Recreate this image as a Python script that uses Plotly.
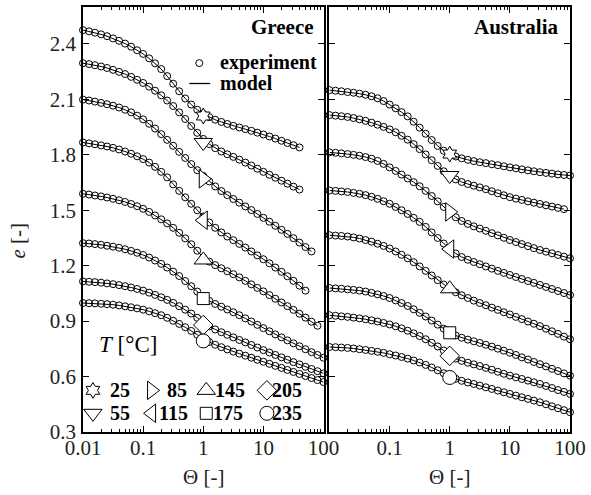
import plotly.graph_objects as go

# ---------------- data ----------------
theta = [0.01, 0.0126, 0.0158, 0.02, 0.0251, 0.0316, 0.0398, 0.0501, 0.0631, 0.0794,
         0.1, 0.126, 0.158, 0.2, 0.251, 0.316, 0.398, 0.501, 0.631, 0.794,
         1.0, 1.26, 1.58, 2.0, 2.51, 3.16, 3.98, 5.01, 6.31, 7.94,
         10.0, 12.6, 15.8, 20.0, 25.1, 31.6, 39.8, 50.1, 63.1, 79.4, 100.0]

temps = [25, 55, 85, 115, 145, 175, 205, 235]

# Greece
g25 = [2.475, 2.468, 2.461, 2.452, 2.442, 2.430, 2.417, 2.402, 2.385, 2.366,
       2.346, 2.322, 2.295, 2.264, 2.226, 2.185, 2.144, 2.105, 2.072, 2.044,
       2.022, 2.004, 1.990, 1.978, 1.967, 1.957, 1.948, 1.939, 1.930, 1.920,
       1.910, 1.899, 1.888, 1.876, 1.864, 1.852, 1.840]
g55 = [2.296, 2.291, 2.285, 2.278, 2.270, 2.260, 2.249, 2.237, 2.222, 2.206,
       2.189, 2.169, 2.147, 2.122, 2.094, 2.064, 2.030, 1.994, 1.956, 1.919,
       1.886, 1.858, 1.836, 1.818, 1.803, 1.789, 1.774, 1.758, 1.742, 1.725,
       1.708, 1.692, 1.676, 1.660, 1.644, 1.628, 1.612]
g85 = [2.099, 2.094, 2.088, 2.081, 2.074, 2.066, 2.056, 2.044, 2.030, 2.012,
       1.992, 1.968, 1.942, 1.912, 1.881, 1.849, 1.816, 1.783, 1.750, 1.717,
       1.686, 1.656, 1.629, 1.604, 1.582, 1.561, 1.541, 1.521, 1.501, 1.480,
       1.459, 1.438, 1.416, 1.394, 1.372, 1.349, 1.325, 1.301, 1.277]
g115 = [1.867, 1.862, 1.857, 1.851, 1.845, 1.838, 1.829, 1.818, 1.806, 1.792,
        1.777, 1.758, 1.735, 1.708, 1.678, 1.640, 1.605, 1.570, 1.535, 1.500,
        1.466, 1.434, 1.405, 1.380, 1.358, 1.338, 1.318, 1.298, 1.277, 1.256,
        1.235, 1.213, 1.190, 1.167, 1.143, 1.118, 1.092, 1.065]
g145 = [1.589, 1.585, 1.580, 1.575, 1.569, 1.562, 1.554, 1.545, 1.534, 1.522,
        1.508, 1.491, 1.472, 1.451, 1.429, 1.405, 1.378, 1.348, 1.316, 1.281,
        1.245, 1.222, 1.203, 1.186, 1.170, 1.154, 1.137, 1.118, 1.099, 1.080,
        1.061, 1.041, 1.021, 1.001, 0.981, 0.961, 0.940, 0.919, 0.897, 0.875]
g175 = [1.322, 1.320, 1.317, 1.313, 1.308, 1.303, 1.297, 1.289, 1.280, 1.270,
        1.258, 1.244, 1.228, 1.210, 1.190, 1.168, 1.144, 1.117, 1.089, 1.060,
        1.032, 1.010, 0.993, 0.978, 0.963, 0.948, 0.932, 0.915, 0.898, 0.880,
        0.862, 0.845, 0.828, 0.812, 0.796, 0.780, 0.764, 0.748, 0.732, 0.717, 0.702]
g205 = [1.115, 1.113, 1.111, 1.108, 1.104, 1.100, 1.095, 1.089, 1.082, 1.074,
        1.065, 1.054, 1.042, 1.029, 1.015, 0.999, 0.981, 0.962, 0.941, 0.918,
        0.893, 0.872, 0.855, 0.840, 0.826, 0.812, 0.798, 0.785, 0.771, 0.757,
        0.743, 0.730, 0.717, 0.704, 0.691, 0.678, 0.666, 0.653, 0.641, 0.629, 0.617]
g235 = [0.998, 0.997, 0.996, 0.994, 0.992, 0.989, 0.985, 0.980, 0.975, 0.969,
        0.962, 0.953, 0.943, 0.932, 0.918, 0.902, 0.885, 0.867, 0.847, 0.826,
        0.805, 0.787, 0.772, 0.759, 0.747, 0.735, 0.724, 0.713, 0.702, 0.691,
        0.680, 0.669, 0.658, 0.647, 0.636, 0.625, 0.614, 0.603, 0.592, 0.581, 0.570]

# Australia
a25 = [2.150, 2.147, 2.144, 2.140, 2.136, 2.131, 2.125, 2.117, 2.106, 2.091,
       2.072, 2.052, 2.031, 2.008, 1.979, 1.947, 1.914, 1.880, 1.848, 1.822,
       1.804, 1.791, 1.781, 1.773, 1.766, 1.760, 1.755, 1.749, 1.744, 1.738,
       1.732, 1.727, 1.721, 1.716, 1.711, 1.706, 1.702, 1.698, 1.694, 1.691, 1.688]
a55 = [2.015, 2.012, 2.009, 2.005, 1.999, 1.992, 1.984, 1.974, 1.963, 1.951,
       1.938, 1.922, 1.903, 1.882, 1.858, 1.831, 1.802, 1.771, 1.740, 1.711,
       1.686, 1.667, 1.653, 1.642, 1.633, 1.624, 1.614, 1.603, 1.592, 1.581,
       1.571, 1.563, 1.556, 1.548, 1.541, 1.534, 1.527, 1.520, 1.513, 1.506]
a85 = [1.813, 1.811, 1.808, 1.804, 1.800, 1.795, 1.788, 1.779, 1.767, 1.751,
       1.732, 1.713, 1.693, 1.672, 1.652, 1.630, 1.605, 1.577, 1.548, 1.518,
       1.489, 1.462, 1.442, 1.426, 1.413, 1.401, 1.389, 1.376, 1.364, 1.351,
       1.339, 1.328, 1.317, 1.306, 1.295, 1.285, 1.276, 1.267, 1.258, 1.249, 1.240]
a115 = [1.607, 1.605, 1.602, 1.599, 1.594, 1.589, 1.582, 1.573, 1.562, 1.549,
        1.535, 1.518, 1.500, 1.480, 1.459, 1.437, 1.410, 1.380, 1.350, 1.320,
        1.291, 1.266, 1.247, 1.232, 1.220, 1.208, 1.196, 1.184, 1.172, 1.161,
        1.150, 1.139, 1.128, 1.117, 1.107, 1.096, 1.085, 1.074, 1.063, 1.052, 1.041]
a145 = [1.365, 1.363, 1.361, 1.358, 1.353, 1.347, 1.339, 1.330, 1.319, 1.307,
        1.293, 1.277, 1.259, 1.240, 1.219, 1.196, 1.172, 1.147, 1.122, 1.098,
        1.076, 1.056, 1.040, 1.025, 1.011, 0.998, 0.986, 0.973, 0.961, 0.948,
        0.936, 0.923, 0.911, 0.898, 0.886, 0.873, 0.859, 0.845, 0.831, 0.816, 0.802]
a175 = [1.079, 1.077, 1.075, 1.072, 1.069, 1.065, 1.060, 1.053, 1.045, 1.036,
        1.025, 1.012, 0.998, 0.982, 0.964, 0.945, 0.925, 0.903, 0.881, 0.859,
        0.838, 0.822, 0.810, 0.800, 0.791, 0.782, 0.772, 0.762, 0.751, 0.740,
        0.729, 0.717, 0.704, 0.692, 0.679, 0.667, 0.655, 0.642, 0.630, 0.617, 0.605]
a205 = [0.932, 0.929, 0.926, 0.923, 0.919, 0.915, 0.910, 0.904, 0.898, 0.890,
        0.882, 0.872, 0.861, 0.848, 0.834, 0.819, 0.802, 0.783, 0.763, 0.741,
        0.716, 0.697, 0.685, 0.675, 0.666, 0.657, 0.647, 0.637, 0.626, 0.615,
        0.605, 0.596, 0.587, 0.578, 0.569, 0.560, 0.549, 0.538, 0.527, 0.517, 0.506]
a235 = [0.760, 0.759, 0.757, 0.755, 0.752, 0.748, 0.744, 0.739, 0.734, 0.728,
        0.721, 0.714, 0.706, 0.697, 0.687, 0.676, 0.663, 0.649, 0.634, 0.618,
        0.601, 0.588, 0.577, 0.568, 0.560, 0.551, 0.542, 0.533, 0.524, 0.515,
        0.506, 0.497, 0.488, 0.479, 0.470, 0.461, 0.450, 0.439, 0.429, 0.418, 0.407]

greece = [g25, g55, g85, g115, g145, g175, g205, g235]
australia = [a25, a55, a85, a115, a145, a175, a205, a235]

# values of the large temperature markers at Theta = 1
mark_theta = 1.0
greece_mark = [2.01, 1.867, 1.67, 1.446, 1.231, 1.022, 0.879, 0.793]
australia_mark = [1.804, 1.688, 1.491, 1.29, 1.075, 0.837, 0.712, 0.595]

x_tickvals = [0.01, 0.1, 1, 10, 100]
x_ticktext_left = ["0.01", "0.1", "1", "10", "100"]
x_ticktext_right = ["", "0.1", "1", "10", "100"]
y_tickvals = [0.3, 0.6, 0.9, 1.2, 1.5, 1.8, 2.1, 2.4]
y_ticktext = ["0.3", "0.6", "0.9", "1.2", "1.5", "1.8", "2.1", "2.4"]

# ---------------- style ----------------
symbols = ["hexagram", "triangle-down", "triangle-right", "triangle-left",
           "triangle-up", "square", "diamond", "circle"]
sym_size = [12, 16, 16, 16, 16, 12, 15, 14]
FONT = "Liberation Serif"
TXT = "#222222"

minor_vals = []
for dec in [0.01, 0.1, 1, 10]:
    for m in range(2, 10):
        minor_vals.append(round(dec * m, 4))

fig = go.Figure()

def add_panel(curves, marks, xa, ya):
    for e_vals, m_val, sym, sz in zip(curves, marks, symbols, sym_size):
        fig.add_trace(go.Scatter(
            x=theta[:len(e_vals)], y=e_vals, mode="lines+markers",
            line=dict(color="black", width=1),
            marker=dict(symbol="circle-open", size=7, color="black", line=dict(width=1)),
            xaxis=xa, yaxis=ya, cliponaxis=False, hoverinfo="skip"))
        fig.add_trace(go.Scatter(
            x=[mark_theta], y=[m_val], mode="markers",
            marker=dict(symbol=sym, size=sz, color="white", line=dict(color="black", width=1)),
            xaxis=xa, yaxis=ya, cliponaxis=False, hoverinfo="skip"))

add_panel(greece, greece_mark, "x", "y")
add_panel(australia, australia_mark, "x2", "y2")

# legend markers (overlay axes in plot-area fraction coordinates)
leg_x = [0.0204, 0.1408, 0.2531, 0.3776]
leg_y = [0.098, 0.044]
leg_rows = [[0, 2, 4, 6], [1, 3, 5, 7]]
for r, row in enumerate(leg_rows):
    for c, idx in enumerate(row):
        fig.add_trace(go.Scatter(
            x=[leg_x[c]], y=[leg_y[r]], mode="markers",
            marker=dict(symbol=symbols[idx], size=sym_size[idx], color="white",
                        line=dict(color="black", width=1)),
            xaxis="x3", yaxis="y3", cliponaxis=False, hoverinfo="skip"))
# experiment circle
fig.add_trace(go.Scatter(x=[0.2388], y=[0.868], mode="markers",
                         marker=dict(symbol="circle-open", size=7, color="black", line=dict(width=1)),
                         xaxis="x3", yaxis="y3", cliponaxis=False, hoverinfo="skip"))
# model line sample
fig.add_trace(go.Scatter(x=[0.2184, 0.2612], y=[0.820, 0.820], mode="lines",
                         line=dict(color="black", width=1.3),
                         xaxis="x3", yaxis="y3", cliponaxis=False, hoverinfo="skip"))

leg_num_x = [[0.051, 0.1694, 0.2673, 0.3837], [0.051, 0.151, 0.2633, 0.3837]]
for r, row in enumerate(leg_rows):
    for c, idx in enumerate(row):
        fig.add_annotation(x=leg_num_x[r][c], y=leg_y[r], xref="paper", yref="paper",
                           text="<b>%d</b>" % temps[idx], showarrow=False,
                           xanchor="left", yanchor="middle",
                           font=dict(family=FONT, size=20, color="black"))

ann = [
    dict(x=0.2776, y=0.870, text="<b>experiment</b>", xanchor="left", size=20),
    dict(x=0.2776, y=0.822, text="<b>model</b>", xanchor="left", size=20),
    dict(x=0.4776, y=0.953, text="<b>Greece</b>", xanchor="right", size=21),
    dict(x=0.9816, y=0.953, text="<b>Australia</b>", xanchor="right", size=21),
]
for a in ann:
    fig.add_annotation(x=a["x"], y=a["y"], xref="paper", yref="paper", text=a["text"],
                       showarrow=False, xanchor=a["xanchor"], yanchor="middle",
                       font=dict(family=FONT, size=a["size"], color="black"))

fig.add_annotation(x=0.0286, y=0.206, xref="paper", yref="paper",
                   text="<i>T</i> [°C]", showarrow=False, xanchor="left", yanchor="middle",
                   font=dict(family=FONT, size=23, color="black"))
fig.add_annotation(x=-0.134, y=0.45, xref="paper", yref="paper", text="<i>e</i> [-]",
                   showarrow=False, textangle=-90, xanchor="center", yanchor="middle",
                   font=dict(family=FONT, size=21, color=TXT))
for xc in [0.2469, 0.7531]:
    fig.add_annotation(x=xc, y=-0.106, xref="paper", yref="paper", text="Θ [-]",
                       showarrow=False, xanchor="center", yanchor="middle",
                       font=dict(family=FONT, size=21, color=TXT))

xcommon = dict(type="log", range=[-2, 2], showline=True, linecolor="black", linewidth=1.5,
               mirror="allticks", ticks="inside", ticklen=6, tickcolor="black", tickwidth=1,
               showgrid=False, zeroline=False, tickmode="array", tickvals=x_tickvals,
               ticklabelstandoff=-4,
               tickfont=dict(family=FONT, size=21, color=TXT),
               minor=dict(ticks="inside", ticklen=3, tickcolor="black", tickwidth=1,
                          tickmode="array", tickvals=minor_vals, showgrid=False))
ycommon = dict(range=[0.3, 2.6], showline=True, linecolor="black", linewidth=1.5,
               mirror="allticks", ticks="inside", ticklen=6, tickcolor="black", tickwidth=1,
               showgrid=False, zeroline=False, tickmode="array", tickvals=y_tickvals,
               ticktext=y_ticktext, tickfont=dict(family=FONT, size=21, color=TXT))

fig.update_layout(
    width=591, height=495,
    margin=dict(l=83, r=18, t=5, b=63),
    plot_bgcolor="rgba(0,0,0,0)", paper_bgcolor="white",
    showlegend=False,
    font=dict(family=FONT, size=20, color=TXT),
    xaxis=dict(xcommon, domain=[0, 0.4939], anchor="y", ticktext=x_ticktext_left),
    xaxis2=dict(xcommon, domain=[0.5061, 1], anchor="y2", ticktext=x_ticktext_right),
    yaxis=dict(ycommon, domain=[0, 1], anchor="x", ticklabelstandoff=1),
    yaxis2=dict(ycommon, domain=[0, 1], anchor="x2", showticklabels=False),
    xaxis3=dict(domain=[0, 1], range=[0, 1], anchor="y3", visible=False, fixedrange=True),
    yaxis3=dict(domain=[0, 1], range=[0, 1], anchor="x3", visible=False, fixedrange=True),
)

fig.write_html("out.html")
